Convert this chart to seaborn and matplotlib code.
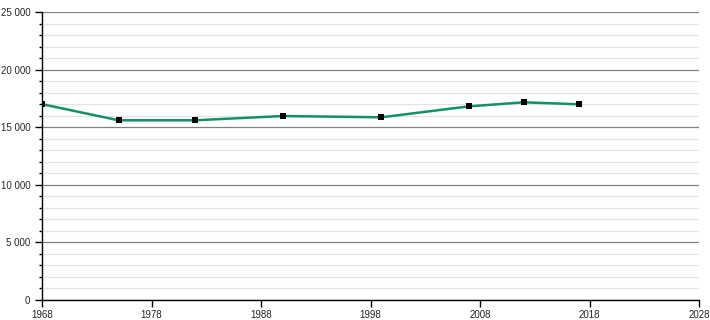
import matplotlib
matplotlib.use("Agg")
import matplotlib.pyplot as plt
import seaborn as sns
import pandas as pd
from matplotlib.ticker import MultipleLocator, FuncFormatter

years = [1968, 1975, 1982, 1990, 1999, 2007, 2012, 2017]
population = [17000, 15600, 15600, 15970, 15860, 16810, 17160, 16990]
x_ticks = [1968, 1978, 1988, 1998, 2008, 2018, 2028]

df = pd.DataFrame({"year": years, "pop": population})

sns.set_style("white")
plt.rcParams["font.family"] = ["Liberation Sans", "DejaVu Sans"]

fig = plt.figure(figsize=(7.1, 3.2), dpi=100)
ax = fig.add_axes([42/710, 1-300/320, (699-42)/710, (300-12)/320])

sns.lineplot(data=df, x="year", y="pop", ax=ax, color="#13906a", linewidth=1.8, zorder=3)
sns.scatterplot(data=df, x="year", y="pop", ax=ax, color="black", marker="s", s=16,
                edgecolor="black", linewidth=0, zorder=4)

ax.set_xlim(1968, 2028)
ax.set_ylim(0, 25000)
ax.set_xticks(x_ticks)
ax.yaxis.set_major_locator(MultipleLocator(5000))
ax.yaxis.set_minor_locator(MultipleLocator(1000))
ax.yaxis.set_major_formatter(FuncFormatter(lambda v, p: f"{int(v):,}".replace(",", " ")))
ax.grid(which="major", axis="y", color="#808080", linewidth=0.9, zorder=1)
ax.grid(which="minor", axis="y", color="#e3e3e3", linewidth=0.9, zorder=0)
ax.set_axisbelow(True)
ax.set_xlabel("")
ax.set_ylabel("")
for s in ["top", "right"]:
    ax.spines[s].set_visible(False)
for s in ["left", "bottom"]:
    ax.spines[s].set_color("black")
    ax.spines[s].set_linewidth(1.0)
ax.tick_params(axis="both", which="major", direction="out", length=5, width=1,
               color="black", labelsize=7, pad=3.5, left=True, bottom=True)
ax.tick_params(axis="x", which="major", pad=2)
ax.tick_params(axis="y", which="minor", direction="out", length=2.5, width=1,
               color="black", left=True)
ax.legend_ = None

fig.savefig("out.png", dpi=100)
